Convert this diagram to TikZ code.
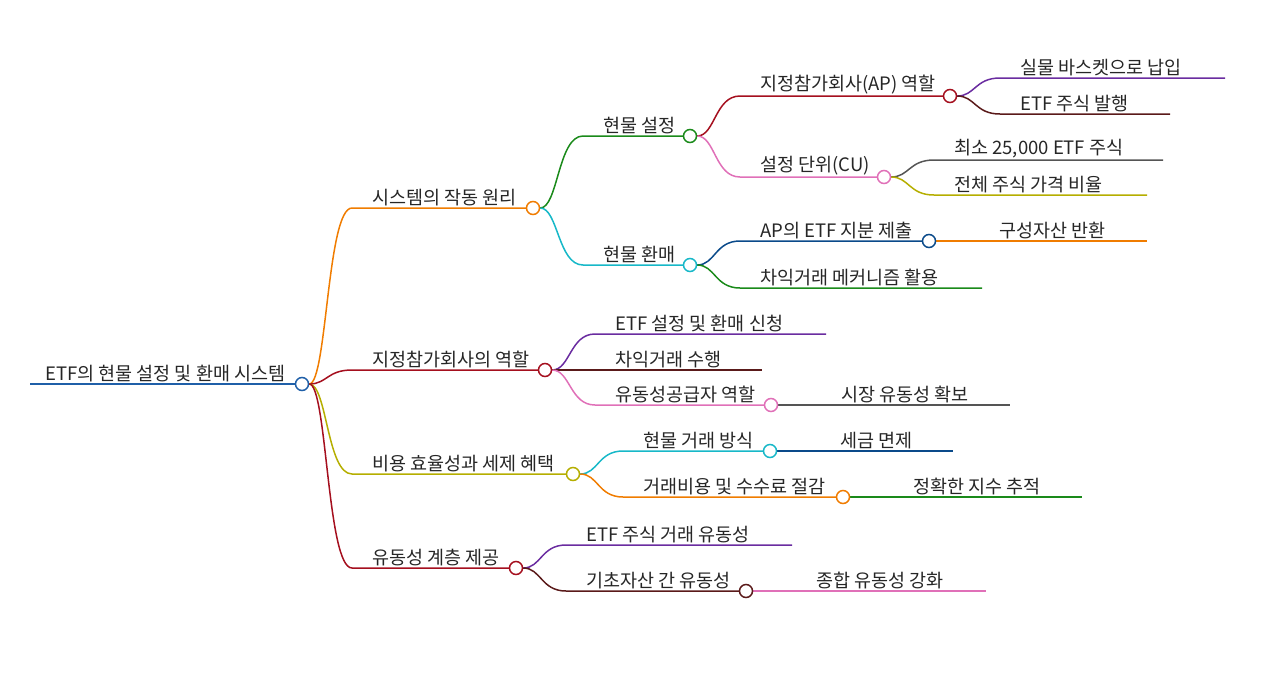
\documentclass[tikz,border=0pt]{standalone}
\usepackage{fontspec}
\newfontfamily\kr{Noto Sans CJK KR}
\usetikzlibrary{calc}
\pgfdeclarelayer{bg}
\pgfsetlayers{bg,main}
\definecolor{cblue}{HTML}{1F5FA8}
\definecolor{corange}{HTML}{F07C00}
\definecolor{cred}{HTML}{A50F1E}
\definecolor{colive}{HTML}{B5AE00}
\definecolor{cgreen}{HTML}{1A8A1A}
\definecolor{ccyan}{HTML}{17B8C8}
\definecolor{cpurple}{HTML}{6A2CA0}
\definecolor{cbrown}{HTML}{5A1A1A}
\definecolor{cpink}{HTML}{E070B8}
\definecolor{cgray}{HTML}{555555}
\definecolor{cnavy}{HTML}{0A4A8A}
\tikzset{lw/.style={line width=1.5pt},
 dot/.style={circle,draw=#1,fill=white,line width=1.5pt,minimum size=13pt,inner sep=0pt},
 lab/.style={anchor=south west,inner sep=2pt,font=\kr\fontsize{18.5}{20}\selectfont,text=black!85}}
\newcommand\MM[8]{%
 \coordinate (#1s) at (#3,#5); \coordinate (#1e) at (#4,#5);
 \coordinate (#1m) at ($(#2)!0.5!(#1s)$);
 \begin{pgfonlayer}{bg}
 \draw[#6,lw] (#2) .. controls (#1m |- #2) and (#1m |- #1s) .. (#1s) -- (#1e);
 \end{pgfonlayer}
 \node[lab] (#1t) at ($(#1s)+(18,0)$) {#7};
 \ifnum#8=1 \node[dot=#6] (#1) at (#1e) {};\else \coordinate (#1) at (#1e);\fi}
\begin{document}
\begin{tikzpicture}[x=1pt,y=-1pt]
\useasboundingbox (0,0) rectangle (1280,673);
\coordinate (rs) at (30,384);
\begin{pgfonlayer}{bg}\draw[cblue,lw] (rs) -- (302,384);\end{pgfonlayer}
\node[lab] (rt) at (43,384) {ETF의 현물 설정 및 환매 시스템};
\node[dot=cblue] (r) at (302,384) {};
\MM{a}{r}{352}{533}{208}{corange}{시스템의 작동 원리}{1}
\MM{b}{r}{352}{545}{370}{cred}{지정참가회사의 역할}{1}
\MM{c}{r}{352}{573}{474}{colive}{비용 효율성과 세제 혜택}{1}
\MM{d}{r}{352}{516}{568}{cred}{유동성 계층 제공}{1}
\MM{a1}{a}{583}{690}{136}{cgreen}{현물 설정}{1}
\MM{a2}{a}{583}{690}{265}{ccyan}{현물 환매}{1}
\MM{a11}{a1}{740}{950}{96}{cred}{지정참가회사(AP) 역할}{1}
\MM{a111}{a11}{1000}{1225}{78}{cpurple}{실물 바스켓으로 납입}{0}
\MM{a112}{a11}{1000}{1170}{114}{cbrown}{ETF 주식 발행}{0}
\MM{a12}{a1}{740}{884}{177}{cpink}{설정 단위(CU)}{1}
\MM{a121}{a12}{934}{1163}{160}{cgray}{최소 25,000 ETF 주식}{0}
\MM{a122}{a12}{934}{1147}{195}{colive}{전체 주식 가격 비율}{0}
\MM{a21}{a2}{740}{929}{241}{cnavy}{AP의 ETF 지분 제출}{1}
\MM{a211}{a21}{979}{1147}{241}{corange}{구성자산 반환}{0}
\MM{a22}{a2}{740}{982}{288}{cgreen}{차익거래 메커니즘 활용}{0}
\MM{b1}{b}{595}{826}{334}{cpurple}{ETF 설정 및 환매 신청}{0}
\MM{b2}{b}{595}{762}{370}{cbrown}{차익거래 수행}{0}
\MM{b3}{b}{595}{771}{405}{cpink}{유동성공급자 역할}{1}
\MM{b31}{b3}{821}{1010}{405}{cgray}{시장 유동성 확보}{0}
\MM{c1}{c}{623}{770}{451}{ccyan}{현물 거래 방식}{1}
\MM{c11}{c1}{820}{953}{451}{cnavy}{세금 면제}{0}
\MM{c2}{c}{623}{843}{497}{corange}{거래비용 및 수수료 절감}{1}
\MM{c21}{c2}{893}{1082}{497}{cgreen}{정확한 지수 추적}{0}
\MM{d1}{d}{566}{792}{545}{cpurple}{ETF 주식 거래 유동성}{0}
\MM{d2}{d}{566}{746}{591}{cbrown}{기초자산 간 유동성}{1}
\MM{d21}{d2}{796}{986}{591}{cpink}{종합 유동성 강화}{0}
\end{tikzpicture}
\end{document}
